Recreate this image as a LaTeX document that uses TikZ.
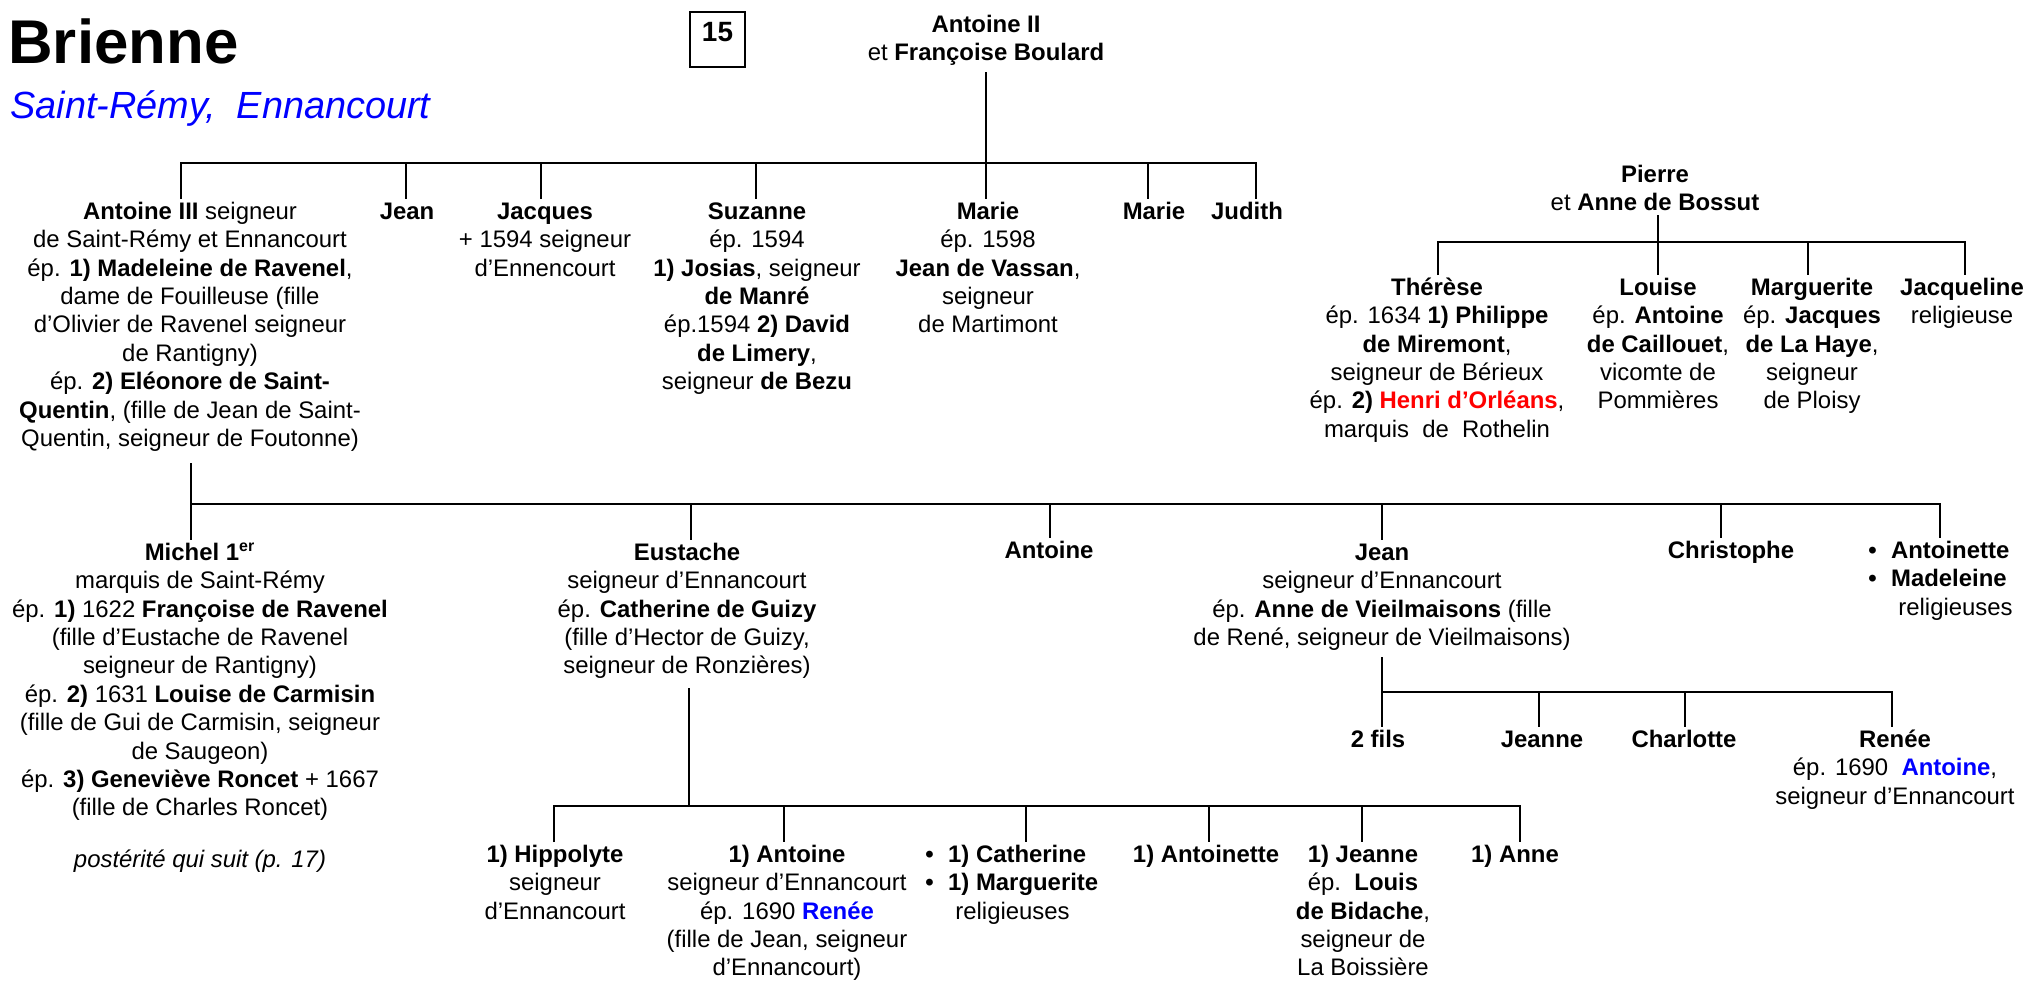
\documentclass[tikz,border=0pt]{standalone}
\usepackage{fontspec}
\setmainfont{Liberation Sans}
\newcommand\bodyf{\fontsize{12}{14.25}\selectfont}
\newcommand\bul{\makebox[0.95em][l]{\textbf{•}}}
\begin{document}
\begin{tikzpicture}[x=0.5bp,y=-0.5bp,
  blk/.style={align=center, inner sep=0pt, anchor=north, yshift=9.975pt, font=\bodyf},
  blkl/.style={align=left, inner sep=0pt, anchor=north west, yshift=9.975pt, font=\bodyf},
  tree/.style={line width=1.4bp, line join=miter}]
\useasboundingbox (0,0) rectangle (2028,984);

% title
\node[anchor=base west, inner sep=0pt, font=\fontsize{31}{31}\selectfont\bfseries] (title) at (8,63) {Brienne};
\node[anchor=base west, inner sep=0pt, font=\fontsize{19}{19}\selectfont\itshape, text=blue] (sub) at (10,118) {Saint-Rémy,\ \ Ennancourt};
\node[draw, line width=0.9bp, minimum width=27.5bp, minimum height=27.5bp, inner sep=0pt,
  font=\fontsize{14}{14}\selectfont\bfseries, text height=10bp, text depth=8.5bp] (box15) at (717.5,39.5) {15};

% generation 0
\node[blk] (AII) at (986,32) {\strut\textbf{Antoine II}\\et \textbf{Françoise Boulard}};

% generation 1
\node[blk] (AIII) at (190,219) {\strut\textbf{Antoine III} seigneur\\de Saint-Rémy et Ennancourt\\ép. \textbf{1) Madeleine de Ravenel},\\dame de Fouilleuse (fille\\d’Olivier de Ravenel seigneur\\de Rantigny)\\ép. \textbf{2) Eléonore de Saint-}\\\textbf{Quentin}, (fille de Jean de Saint-\\Quentin, seigneur de Foutonne)};
\node[blk] (Jean1) at (407,219) {\strut\textbf{Jean}};
\node[blk] (Jacques) at (545,219) {\strut\textbf{Jacques}\\+ 1594 seigneur\\d’Ennencourt};
\node[blk] (Suzanne) at (757,219) {\strut\textbf{Suzanne}\\ép. 1594\\\textbf{1) Josias}, seigneur\\\textbf{de Manré}\\ép.1594 \textbf{2) David}\\\textbf{de Limery},\\seigneur \textbf{de Bezu}};
\node[blk] (Marie1) at (988,219) {\strut\textbf{Marie}\\ép. 1598\\\textbf{Jean de Vassan},\\seigneur\\de Martimont};
\node[blk] (Marie2) at (1154,219) {\strut\textbf{Marie}};
\node[blk] (Judith) at (1247,219) {\strut\textbf{Judith}};

% Pierre
\node[blk] (Pierre) at (1655,182) {\strut\textbf{Pierre}\\et \textbf{Anne de Bossut}};
\node[blk] (Therese) at (1437,295) {\strut\textbf{Thérèse}\\ép. 1634 \textbf{1) Philippe}\\\textbf{de Miremont},\\seigneur de Bérieux\\ép. \textbf{2) \textcolor{red}{Henri d’Orléans}},\\marquis\ \ de\ \ Rothelin};
\node[blk] (Louise) at (1658,295) {\strut\textbf{Louise}\\ép. \textbf{Antoine}\\\textbf{de Caillouet},\\vicomte de\\Pommières};
\node[blk] (Marguerite) at (1812,295) {\strut\textbf{Marguerite}\\ép. \textbf{Jacques}\\\textbf{de La Haye},\\seigneur\\de Ploisy};
\node[blk] (Jacqueline) at (1962,295) {\strut\textbf{Jacqueline}\\religieuse};

% generation 2
\node[blk] (Michel) at (200,560) {\strut\textbf{Michel 1\textsuperscript{er}}\\marquis de Saint-Rémy\\ép. \textbf{1)} 1622 \textbf{Françoise de Ravenel}\\(fille d’Eustache de Ravenel\\seigneur de Rantigny)\\ép. \textbf{2)} 1631 \textbf{Louise de Carmisin}\\(fille de Gui de Carmisin, seigneur\\de Saugeon)\\ép. \textbf{3) Geneviève Roncet} + 1667\\(fille de Charles Roncet)};
\node[blk, font=\bodyf\itshape] (Posterite) at (200,867) {\strut postérité qui suit (p. 17)};
\node[blk] (Eustache) at (687,560) {\strut\textbf{Eustache}\\seigneur d’Ennancourt\\ép. \textbf{Catherine de Guizy}\\(fille d’Hector de Guizy,\\seigneur de Ronzières)};
\node[blk] (Antoine2) at (1049,558) {\strut\textbf{Antoine}};
\node[blk] (Jean2) at (1382,560) {\strut\textbf{Jean}\\seigneur d’Ennancourt\\ép. \textbf{Anne de Vieilmaisons} (fille\\de René, seigneur de Vieilmaisons)};
\node[blk] (Christophe) at (1731,558) {\strut\textbf{Christophe}};
\node[blkl] (AntoinetteM) at (1868,558) {\strut\bul\textbf{Antoinette}\\\bul\textbf{Madeleine}\\\hspace*{15bp}religieuses};

% children of Jean
\node[blk] (Fils) at (1378,747) {\strut\textbf{2 fils}};
\node[blk] (Jeanne2) at (1542,747) {\strut\textbf{Jeanne}};
\node[blk] (Charlotte) at (1684,747) {\strut\textbf{Charlotte}};
\node[blk] (Renee) at (1895,747) {\strut\textbf{Renée}\\ép. 1690\ \ \textbf{\textcolor{blue}{Antoine}},\\seigneur d’Ennancourt};

% children of Eustache
\node[blk] (Hippolyte) at (555,862) {\strut\textbf{1) Hippolyte}\\seigneur\\d’Ennancourt};
\node[blk] (Antoine3) at (787,862) {\strut\textbf{1) Antoine}\\seigneur d’Ennancourt\\ép. 1690 \textbf{\textcolor{blue}{Renée}}\\(fille de Jean, seigneur\\d’Ennancourt)};
\node[blkl] (Catherine) at (925,862) {\strut\bul\textbf{1) Catherine}\\\bul\textbf{1) Marguerite}\\\hspace*{15bp}religieuses};
\node[blk] (Antoinette3) at (1206,862) {\strut\textbf{1) Antoinette}};
\node[blk] (Jeanne3) at (1363,862) {\strut\textbf{1) Jeanne}\\ép.\ \ \textbf{Louis}\\\textbf{de Bidache},\\seigneur de\\La Boissière};
\node[blk] (Anne3) at (1515,862) {\strut\textbf{1) Anne}};

% ---------- connectors ----------
% family of Antoine II
\coordinate (pAII) at (986,72);
\coordinate (g1L) at (181,163);
\coordinate (g1R) at (1256,163);
\draw[tree] (pAII) -- (pAII |- g1L);
\draw[tree] (g1L |- AIII.north) -- (g1L) -- (g1R) -- (g1R |- Judith.north);
\coordinate (dJean1) at (406,163);
\coordinate (dJacques) at (541,163);
\coordinate (dSuzanne) at (756,163);
\coordinate (dMarie1) at (986,163);
\coordinate (dMarie2) at (1148,163);
\draw[tree] (dJean1) -- (dJean1 |- Jean1.north);
\draw[tree] (dJacques) -- (dJacques |- Jacques.north);
\draw[tree] (dSuzanne) -- (dSuzanne |- Suzanne.north);
\draw[tree] (dMarie1) -- (dMarie1 |- Marie1.north);
\draw[tree] (dMarie2) -- (dMarie2 |- Marie2.north);

% family of Pierre
\coordinate (pP) at (1658,215);
\coordinate (g2L) at (1438,242);
\coordinate (g2R) at (1965,242);
\draw[tree] (pP) -- (pP |- g2L);
\draw[tree] (g2L |- Therese.north) -- (g2L) -- (g2R) -- (g2R |- Jacqueline.north);
\coordinate (dLouise) at (1658,242);
\coordinate (dMarguerite) at (1808,242);
\draw[tree] (dLouise) -- (dLouise |- Louise.north);
\draw[tree] (dMarguerite) -- (dMarguerite |- Marguerite.north);

% family of Antoine III
\coordinate (pAIII) at (191,463);
\coordinate (g3L) at (191,504);
\coordinate (g3R) at (1940,504);
\draw[tree] (pAIII) -- (pAIII |- Michel.north);
\draw[tree] (g3L) -- (g3R) -- (g3R |- AntoinetteM.north);
\coordinate (dEustache) at (691,504);
\coordinate (dAntoine2) at (1050,504);
\coordinate (dJean2) at (1382,504);
\coordinate (dChristophe) at (1721,504);
\draw[tree] (dEustache) -- (dEustache |- Eustache.north);
\draw[tree] (dAntoine2) -- (dAntoine2 |- Antoine2.north);
\draw[tree] (dJean2) -- (dJean2 |- Jean2.north);
\draw[tree] (dChristophe) -- (dChristophe |- Christophe.north);

% family of Jean
\coordinate (pJ) at (1382,657);
\coordinate (g5L) at (1382,692);
\coordinate (g5R) at (1892,692);
\draw[tree] (pJ) -- (pJ |- Fils.north);
\draw[tree] (g5L) -- (g5R) -- (g5R |- Renee.north);
\coordinate (dJeanne2) at (1539,692);
\coordinate (dCharlotte) at (1685,692);
\draw[tree] (dJeanne2) -- (dJeanne2 |- Jeanne2.north);
\draw[tree] (dCharlotte) -- (dCharlotte |- Charlotte.north);

% family of Eustache
\coordinate (pE) at (689,688);
\coordinate (g4L) at (554,806);
\coordinate (g4R) at (1520,806);
\draw[tree] (pE) -- (pE |- g4L);
\draw[tree] (g4L |- Hippolyte.north) -- (g4L) -- (g4R) -- (g4R |- Anne3.north);
\coordinate (dAntoine3) at (784,806);
\coordinate (dCatherine) at (1026,806);
\coordinate (dAntoinette3) at (1209,806);
\coordinate (dJeanne3) at (1362,806);
\draw[tree] (dAntoine3) -- (dAntoine3 |- Antoine3.north);
\draw[tree] (dCatherine) -- (dCatherine |- Catherine.north);
\draw[tree] (dAntoinette3) -- (dAntoinette3 |- Antoinette3.north);
\draw[tree] (dJeanne3) -- (dJeanne3 |- Jeanne3.north);
\end{tikzpicture}
\end{document}
